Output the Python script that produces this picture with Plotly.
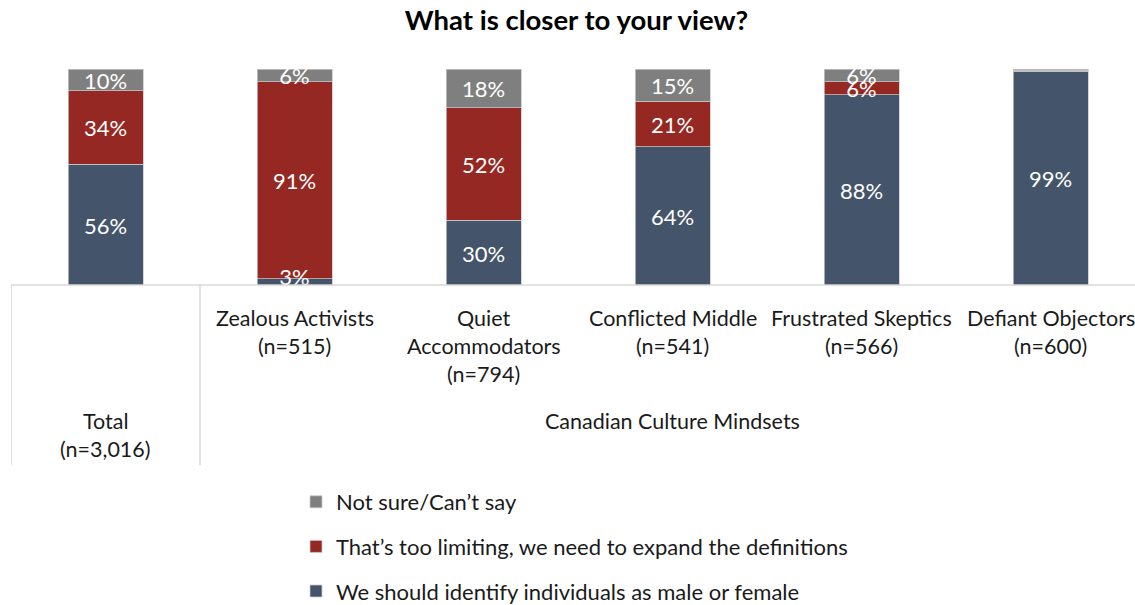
import plotly.graph_objects as go

categories = ["Total", "Zealous Activists", "Quiet Accommodators", "Conflicted Middle",
              "Frustrated Skeptics", "Defiant Objectors"]
cat_label_lines = [
    ["Total", "(n=3,016)"],
    ["Zealous Activists", "(n=515)"],
    ["Quiet", "Accommodators", "(n=794)"],
    ["Conflicted Middle", "(n=541)"],
    ["Frustrated Skeptics", "(n=566)"],
    ["Defiant Objectors", "(n=600)"],
]
group_label = "Canadian Culture Mindsets"

series_names = [
    "We should identify individuals as male or female",
    "That’s too limiting, we need to expand the definitions",
    "Not sure/Can’t say",
]
male_female = [56, 3, 30, 64, 88, 99]
too_limiting = [34, 91, 52, 21, 6, 0.5]
not_sure = [10, 6, 18, 15, 6, 0.5]
series_values = [male_female, too_limiting, not_sure]
series_colors = ["#44546A", "#952822", "#7F7F7F"]
legend_ranks = [3, 2, 1]

title = "What is closer to your view?"

FONT = "Lato"
W, H = 1135, 605
ML, MR, MT = 11, 0, 69
PLOT_BOTTOM = 285
PH = PLOT_BOTTOM - MT
MB = H - PLOT_BOTTOM
STEP = 189.0
PW = W - ML - MR

x_idx = list(range(len(categories)))

def py(px):
    return (PLOT_BOTTOM - px) / PH

fig = go.Figure()
for name, vals, col, rk in zip(series_names, series_values, series_colors, legend_ranks):
    fig.add_trace(go.Bar(
        x=x_idx, y=vals, name=name, width=75 / STEP,
        marker=dict(color=col, line=dict(color="#C8C8C8", width=0.75)),
        legendgroup=name, legendrank=rk, hoverinfo="skip",
    ))

# data labels drawn on top of all bars (like the original)
MIN_LABEL_Y = 4.2          # keep label text above the baseline
LABEL_DY = 3.5 * 100 / PH  # small downward nudge of the text (3.5 px)
base = [0] * len(categories)
for name, vals in zip(series_names, series_values):
    ys, texts = [], []
    for k, v in enumerate(vals):
        mid = base[k] + v / 2
        ys.append(max(mid, MIN_LABEL_Y) - LABEL_DY)
        texts.append(f"{v:g}%" if v >= 1 else "")
        base[k] += v
    fig.add_trace(go.Scatter(
        x=x_idx, y=ys, text=texts, mode="text", textposition="middle center",
        textfont=dict(family=FONT, size=22, color="white"),
        showlegend=False, hoverinfo="skip", cliponaxis=False,
    ))

shapes = [
    dict(type="line", xref="x", yref="paper", x0=-0.5, x1=5.6, y0=0, y1=0,
         line=dict(color="#D9D9D9", width=1.5)),
    dict(type="line", xref="x", yref="paper", x0=-0.5, x1=-0.5, y0=0, y1=py(465),
         line=dict(color="#D9D9D9", width=1.5)),
    dict(type="line", xref="x", yref="paper", x0=0.5, x1=0.5, y0=0, y1=py(465),
         line=dict(color="#D9D9D9", width=1.5)),
]

annotations = []
line_gap = 28
LBL_FONT = dict(family=FONT, size=21.5, color="#1a1a1a")
for i, lines in enumerate(cat_label_lines):
    start = 421 if i == 0 else 318
    for j, t in enumerate(lines):
        annotations.append(dict(x=i, y=py(start + j * line_gap), xref="x", yref="paper",
                                text=t, showarrow=False, xanchor="center", yanchor="middle",
                                font=LBL_FONT))
annotations.append(dict(x=3, y=py(421), xref="x", yref="paper", text=group_label,
                        showarrow=False, xanchor="center", yanchor="middle", font=LBL_FONT))

fig.update_layout(
    width=W, height=H,
    margin=dict(l=ML, r=MR, t=MT, b=MB, pad=0, autoexpand=False),
    barmode="stack",
    plot_bgcolor="white", paper_bgcolor="white",
    title=dict(text=f"<b>{title}</b>", x=576.5 / W, xref="container", xanchor="center",
               y=1 - 20 / H, yanchor="middle", yref="container",
               font=dict(family=FONT, size=27.5, color="#000000")),
    xaxis=dict(range=[-0.5, -0.5 + PW / STEP], showticklabels=False, showgrid=False,
               zeroline=False, showline=False, ticks=""),
    yaxis=dict(range=[0, 100], showticklabels=False, showgrid=False, zeroline=False,
               showline=False, ticks=""),
    shapes=shapes,
    annotations=annotations,
    showlegend=True,
    legend=dict(orientation="v", x=296 / W, xref="container", xanchor="left",
                y=1 - 481 / H, yref="container", yanchor="top",
                traceorder="grouped", tracegroupgap=13,
                font=dict(family=FONT, size=22, color="#1a1a1a"),
                bgcolor="rgba(0,0,0,0)", borderwidth=0),
)

fig.write_html("out.html", config={"displayModeBar": False},
               post_script="document.body.style.margin='0px';")
